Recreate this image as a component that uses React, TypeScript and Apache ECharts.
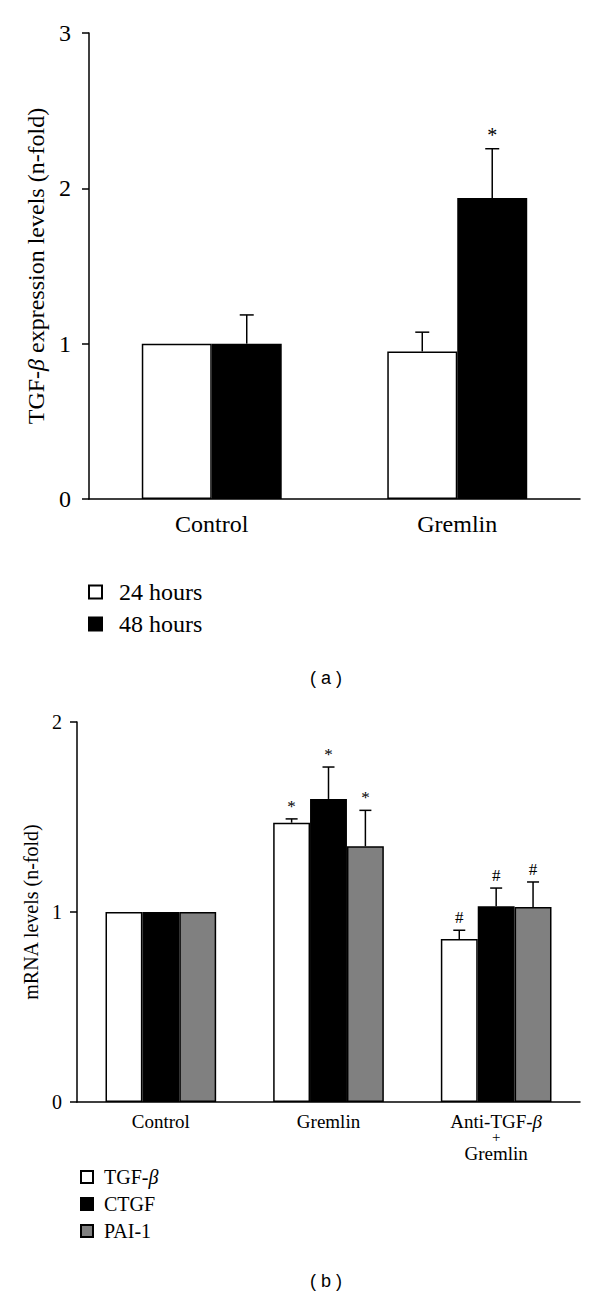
import React, { useEffect, useRef } from "react";
import * as echarts from "echarts";

// ---- Panel (a) data ----
const catsA = ["Control", "Gremlin"];
const seriesNamesA = ["24 hours", "48 hours"];
const valsA24 = [1.0, 0.95];
const errA24 = [0, 0.124];
const markA24 = ["", ""];
const valsA48 = [1.0, 1.938];
const errA48 = [0.185, 0.317];
const markA48 = ["", "*"];
const yTicksA = { min: 0, max: 3, interval: 1 };

// ---- Panel (b) data ----
const catsB = ["Control", "Gremlin", "Anti-TGF-β\n+\nGremlin"];
const seriesNamesB = ["TGF-β", "CTGF", "PAI-1"];
const valsTGF = [1.0, 1.47, 0.858];
const errTGF = [0, 0.02, 0.046];
const markTGF = ["", "*", "#"];
const valsCTGF = [1.0, 1.595, 1.03];
const errCTGF = [0, 0.168, 0.096];
const markCTGF = ["", "*", "#"];
const valsPAI = [1.0, 1.346, 1.026];
const errPAI = [0, 0.189, 0.132];
const markPAI = ["", "*", "#"];
const yTicksB = { min: 0, max: 2, interval: 1 };

const SERIF = "Liberation Serif";
const SANS = "Liberation Sans";

const GAP_A = 0.43;
const GAP_B = 0.34;

// wrap text into rich tokens: plain parts as {s|..}, β as {i|β}, lone + as {p|+}
function richify(text: string): string {
  return text
    .split("\n")
    .map((line) => {
      if (line === "+") return "{p|+}";
      return line
        .split("β")
        .map((part) => (part ? `{s|${part}}` : ""))
        .join("{i|β}");
    })
    .join("\n");
}

function richStyles(size: number, lh: number) {
  return {
    s: { fontFamily: SERIF, fontSize: size, lineHeight: lh, color: "#000" },
    i: { fontFamily: SERIF, fontStyle: "italic", fontSize: size, lineHeight: lh, color: "#000" },
    p: { fontFamily: SERIF, fontSize: Math.round(size * 0.8), lineHeight: Math.round(lh * 0.8), color: "#000" },
  };
}

function barSeries(name: string, axis: number, vals: number[], color: string, gap: number) {
  return {
    type: "bar",
    name,
    xAxisIndex: axis,
    yAxisIndex: axis,
    data: vals,
    barGap: "0%",
    barCategoryGap: Math.round(gap * 100) + "%",
    itemStyle: { color, borderColor: "#000", borderWidth: 1.5 },
    z: 2,
  };
}

function errSeries(
  axis: number,
  vals: number[],
  errs: number[],
  marks: string[],
  sIdx: number,
  n: number,
  gap: number,
  capW: number,
  markSize: number
) {
  return {
    type: "custom",
    xAxisIndex: axis,
    yAxisIndex: axis,
    z: 5,
    silent: true,
    data: vals.map((v, i) => [i, v, errs[i]]),
    encode: { x: 0, y: 1 },
    renderItem: (params: any, api: any) => {
      const i = api.value(0);
      const v = api.value(1);
      const e = api.value(2);
      const base = api.coord([i, v]);
      const top = api.coord([i, v + e]);
      const band = api.size([1, 0])[0];
      const barW = (band * (1 - gap)) / n;
      const x = base[0] + (sIdx - (n - 1) / 2) * barW;
      const children: any[] = [];
      if (e > 0) {
        children.push({
          type: "line",
          shape: { x1: x, y1: base[1], x2: x, y2: top[1] },
          style: { stroke: "#000", lineWidth: 1.5 },
        });
        children.push({
          type: "line",
          shape: { x1: x - capW / 2, y1: top[1], x2: x + capW / 2, y2: top[1] },
          style: { stroke: "#000", lineWidth: 1.5 },
        });
      }
      const m = marks[params.dataIndex];
      if (m) {
        children.push({
          type: "text",
          style: {
            text: m,
            x: x,
            y: top[1] - 4,
            align: "center",
            verticalAlign: "bottom",
            fontSize: markSize,
            fontFamily: SERIF,
            fill: "#000",
          },
        });
      }
      return { type: "group", children };
    },
  };
}

export default function App() {
  const ref = useRef<HTMLDivElement>(null);
  useEffect(() => {
    document.body.style.margin = "0";
    if (!ref.current) return;
    const chart = echarts.init(ref.current, undefined, { renderer: "svg" });
    const axisLineStyle = { color: "#000", width: 1.5 };
    const option: any = {
      animation: false,
      backgroundColor: "#fff",
      textStyle: { fontFamily: SERIF },
      title: [
        {
          text: "( a )",
          left: 321,
          top: 664,
          textAlign: "center",
          textStyle: { fontFamily: SANS, fontSize: 18, fontWeight: "normal", color: "#000" },
        },
        {
          text: "( b )",
          left: 321,
          top: 1267,
          textAlign: "center",
          textStyle: { fontFamily: SANS, fontSize: 18, fontWeight: "normal", color: "#000" },
        },
      ],
      grid: [
        { left: 89, right: 20, top: 33, height: 466 },
        { left: 77, right: 20, top: 722, height: 380 },
      ],
      xAxis: [
        {
          type: "category",
          gridIndex: 0,
          data: catsA,
          axisLine: { lineStyle: axisLineStyle },
          axisTick: { show: false },
          axisLabel: {
            interval: 0,
            fontFamily: SERIF,
            fontSize: 24,
            margin: 13,
            formatter: (s: string) => richify(s),
            rich: richStyles(24, 24),
          },
        },
        {
          type: "category",
          gridIndex: 1,
          data: catsB,
          axisLine: { lineStyle: axisLineStyle },
          axisTick: { show: false },
          axisLabel: {
            interval: 0,
            hideOverlap: false,
            fontFamily: SERIF,
            fontSize: 19,
            lineHeight: 18,
            margin: 10,
            formatter: (s: string) => richify(s),
            rich: richStyles(19, 18),
          },
        },
      ],
      yAxis: [
        {
          type: "value",
          gridIndex: 0,
          min: yTicksA.min,
          max: yTicksA.max,
          interval: yTicksA.interval,
          splitLine: { show: false },
          axisLine: { show: true, lineStyle: axisLineStyle },
          axisTick: { show: true, length: 7, lineStyle: axisLineStyle },
          axisLabel: {
            fontFamily: SERIF,
            fontSize: 24,
            margin: 18,
            formatter: (v: number) => `{s|${v}}`,
            rich: richStyles(24, 24),
          },
          name: richify("TGF-β expression levels (n-fold)"),
          nameLocation: "middle",
          nameGap: 41,
          nameTextStyle: {
            color: "#000",
            fontFamily: SERIF,
            fontSize: 24,
            rich: richStyles(24, 24),
          },
        },
        {
          type: "value",
          gridIndex: 1,
          min: yTicksB.min,
          max: yTicksB.max,
          interval: yTicksB.interval,
          splitLine: { show: false },
          axisLine: { show: true, lineStyle: axisLineStyle },
          axisTick: { show: true, length: 7, lineStyle: axisLineStyle },
          axisLabel: {
            fontFamily: SERIF,
            fontSize: 20,
            margin: 15,
            formatter: (v: number) => `{s|${v}}`,
            rich: richStyles(20, 20),
          },
          name: richify("mRNA levels (n-fold)"),
          nameLocation: "middle",
          nameGap: 31,
          nameTextStyle: { color: "#000", fontFamily: SERIF, fontSize: 20, rich: richStyles(20, 20) },
        },
      ],
      legend: [
        {
          data: seriesNamesA.map((n) => ({ name: n, icon: "rect" })),
          orient: "vertical",
          left: 83,
          top: 575,
          itemWidth: 13,
          itemHeight: 13,
          itemGap: 8,
          selectedMode: false,
          formatter: (name: string) => richify(name),
          textStyle: {
            color: "#000",
            fontFamily: SERIF,
            fontSize: 24,
            lineHeight: 24,
            padding: [0, 0, 0, 12],
            rich: richStyles(24, 24),
          },
        },
        {
          data: seriesNamesB.map((n) => ({ name: n, icon: "rect" })),
          orient: "vertical",
          left: 75,
          top: 1162,
          itemWidth: 12,
          itemHeight: 12,
          itemGap: 7,
          selectedMode: false,
          formatter: (name: string) => richify(name),
          textStyle: {
            color: "#000",
            fontFamily: SERIF,
            fontSize: 20,
            lineHeight: 20,
            padding: [0, 0, 0, 6],
            rich: richStyles(20, 20),
          },
        },
      ],
      series: [
        barSeries(seriesNamesA[0], 0, valsA24, "#fff", GAP_A),
        barSeries(seriesNamesA[1], 0, valsA48, "#000", GAP_A),
        errSeries(0, valsA24, errA24, markA24, 0, 2, GAP_A, 14, 20),
        errSeries(0, valsA48, errA48, markA48, 1, 2, GAP_A, 14, 20),
        barSeries(seriesNamesB[0], 1, valsTGF, "#fff", GAP_B),
        barSeries(seriesNamesB[1], 1, valsCTGF, "#000", GAP_B),
        barSeries(seriesNamesB[2], 1, valsPAI, "#808080", GAP_B),
        errSeries(1, valsTGF, errTGF, markTGF, 0, 3, GAP_B, 12, 17),
        errSeries(1, valsCTGF, errCTGF, markCTGF, 1, 3, GAP_B, 12, 17),
        errSeries(1, valsPAI, errPAI, markPAI, 2, 3, GAP_B, 12, 17),
      ],
    };
    chart.setOption(option);
    return () => chart.dispose();
  }, []);
  return <div ref={ref} style={{ width: 600, height: 1294 }} />;
}
